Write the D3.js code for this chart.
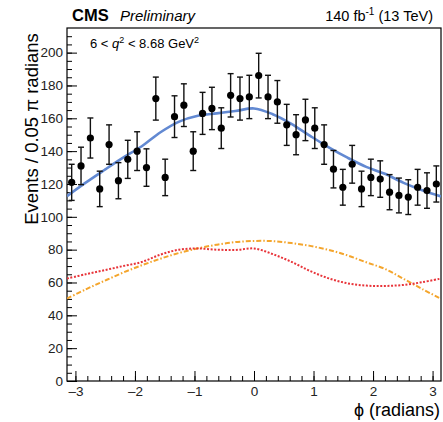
<!DOCTYPE html>
<html><head><meta charset="utf-8">
<script src="https://cdn.jsdelivr.net/npm/d3@7"></script>
<style>
body{margin:0;background:#fff;}
svg{display:block;font-family:"Liberation Sans",Arial,Helvetica,sans-serif;}
</style></head>
<body>
<svg id="c" width="443" height="422"></svg>
<script>
// ---- data ----
const nBins = 40;
const counts = [121,131,148,117,144,122,135,140,130,172,124,161,168,140,163,166,154,174,172,173,186,173,170,156,150,159,154,144,129,118,132,117,124,123,115,113,112,118,116,120];
const errors = [11,11.4,12.2,10.8,12,11,11.6,11.8,11.4,13.1,11.1,12.7,13,11.8,12.8,12.9,12.4,13.2,13.1,13.2,13.6,13.2,13,12.5,12.2,12.6,12.4,12,11.4,10.9,11.5,10.8,11.1,11.1,10.7,10.6,10.6,10.9,10.8,11];
// fit curves sampled at phi = -pi + k*0.1*pi (k = 0..20)
const fitPhiPi = [-1,-0.9,-0.8,-0.7,-0.6,-0.5,-0.4,-0.3,-0.2,-0.1,0,0.1,0.2,0.3,0.4,0.5,0.6,0.7,0.8,0.9,1];
const fitTotal = [112.6,120.8,128.5,136,143,151.5,158,161.5,163,164.4,166,162.5,156.6,149.3,142.3,136,130.4,126.2,120.7,116.2,112.4];
const fitRed   = [62.4,65,67.5,70,72.5,77,80,80.7,80,79.8,80.7,77.3,72.6,67,62.5,59.5,58.1,57.9,58.5,60.2,62.4];
const fitOrange= [50.2,55.8,61,66,70.5,74.5,78,80.8,83,84.6,85.3,85.2,84,82.3,79.8,76.5,72.3,68.3,62.2,56,50];
const xTickVals = [-3,-2,-1,0,1,2,3];
const xTickLabels = ["\u20133","\u20132","\u20131","0","1","2","3"];
const yTickVals = [0,20,40,60,80,100,120,140,160,180,200];

// ---- layout ----
const L=67, R=441, T=28, B=381;
const svg = d3.select("#c");
const x = d3.scaleLinear().domain([-Math.PI, Math.PI]).range([L, R]);
const y = d3.scaleLinear().domain([0, 215]).range([B, T]);

// axes
const yMinor = d3.range(0, 215, 5);
svg.append("g").attr("transform",`translate(${L},0)`)
  .call(d3.axisLeft(y).tickValues(yMinor).tickSize(-5).tickFormat(""))
  .call(g=>g.select(".domain").remove())
  .call(g=>g.selectAll("line").attr("stroke","#000").attr("stroke-width",1));
svg.append("g").attr("transform",`translate(${L},0)`)
  .call(d3.axisLeft(y).tickValues(yTickVals).tickSize(-10).tickPadding(4).tickFormat(d=>d))
  .call(g=>g.select(".domain").remove())
  .call(g=>g.selectAll("line").attr("stroke","#000").attr("stroke-width",1))
  .call(g=>g.selectAll("text").attr("font-size",13.5).attr("fill","#222").attr("font-family","Liberation Sans, Arial, sans-serif"));

const xMinor = d3.range(-3.0, 3.15, 0.2).map(v=>Math.round(v*10)/10);
svg.append("g").attr("transform",`translate(0,${B})`)
  .call(d3.axisBottom(x).tickValues(xMinor).tickSize(-5).tickFormat(""))
  .call(g=>g.select(".domain").remove())
  .call(g=>g.selectAll("line").attr("stroke","#000").attr("stroke-width",1));
svg.append("g").attr("transform",`translate(0,${B})`)
  .call(d3.axisBottom(x).tickValues(xTickVals).tickSize(-10).tickPadding(5).tickFormat((d,i)=>xTickLabels[i]))
  .call(g=>g.select(".domain").remove())
  .call(g=>g.selectAll("line").attr("stroke","#000").attr("stroke-width",1))
  .call(g=>g.selectAll("text").attr("font-size",13.5).attr("fill","#222").attr("font-family","Liberation Sans, Arial, sans-serif"));

// frame
svg.append("rect").attr("x",L).attr("y",T).attr("width",R-L).attr("height",B-T)
  .attr("fill","none").attr("stroke","#000").attr("stroke-width",1.2);

// curves
const fitX = fitPhiPi.map(p=>p*Math.PI);
const line = d3.line().x((d,i)=>x(fitX[i])).y(d=>y(d)).curve(d3.curveCatmullRom);
svg.append("clipPath").attr("id","cp").append("rect").attr("x",L).attr("y",T).attr("width",R-L).attr("height",B-T);
const cg = svg.append("g").attr("clip-path","url(#cp)");
cg.append("path").datum(fitOrange).attr("d",line).attr("fill","none")
  .attr("stroke","#f4a52c").attr("stroke-width",2).attr("stroke-dasharray","5,2,1.5,2");
cg.append("path").datum(fitRed).attr("d",line).attr("fill","none")
  .attr("stroke","#e8343a").attr("stroke-width",2).attr("stroke-dasharray","2,1.6");
cg.append("path").datum(fitTotal).attr("d",line).attr("fill","none")
  .attr("stroke","#6289d2").attr("stroke-width",2.6);

// data points
const binW = 2*Math.PI/nBins;
const centers = counts.map((c,i)=>-Math.PI + (i+0.5)*binW);
const pts = svg.append("g");
counts.forEach((c,i)=>{
  const cx = x(centers[i]);
  const y1 = y(c+errors[i]), y0 = y(c-errors[i]);
  pts.append("line").attr("x1",cx).attr("x2",cx).attr("y1",y1).attr("y2",y0).attr("stroke","#111").attr("stroke-width",1.4);
  pts.append("line").attr("x1",cx-3).attr("x2",cx+3).attr("y1",y1).attr("y2",y1).attr("stroke","#111").attr("stroke-width",1.4);
  pts.append("line").attr("x1",cx-3).attr("x2",cx+3).attr("y1",y0).attr("y2",y0).attr("stroke","#111").attr("stroke-width",1.4);
  pts.append("circle").attr("cx",cx).attr("cy",y(c)).attr("r",3.6).attr("fill","#000");
});

// texts
svg.append("text").attr("x",72).attr("y",21).attr("font-size",16.5).attr("font-weight","bold").text("CMS");
svg.append("text").attr("x",120).attr("y",21).attr("font-size",15).attr("font-style","italic").text("Preliminary");
const lum = svg.append("text").attr("x",433).attr("y",21).attr("font-size",14.5).attr("text-anchor","end");
lum.append("tspan").text("140 fb");
lum.append("tspan").attr("font-size",10).attr("dy",-6).text("-1");
lum.append("tspan").attr("dy",6).text(" (13 TeV)");
const ann = svg.append("text").attr("x",90).attr("y",48).attr("font-size",13);
ann.append("tspan").text("6 < ");
ann.append("tspan").attr("font-style","italic").text("q");
ann.append("tspan").attr("font-size",9).attr("dy",-5).text("2");
ann.append("tspan").attr("dy",5).text(" < 8.68 GeV");
ann.append("tspan").attr("font-size",9).attr("dy",-5).text("2");
svg.append("text").attr("transform","translate(38,129) rotate(-90)").attr("text-anchor","middle")
  .attr("font-size",18.5).text("Events / 0.05 \u03c0 radians");
svg.append("text").attr("x",440).attr("y",416).attr("text-anchor","end").attr("font-size",18).text("\u03d5 (radians)");
</script>
</body></html>
